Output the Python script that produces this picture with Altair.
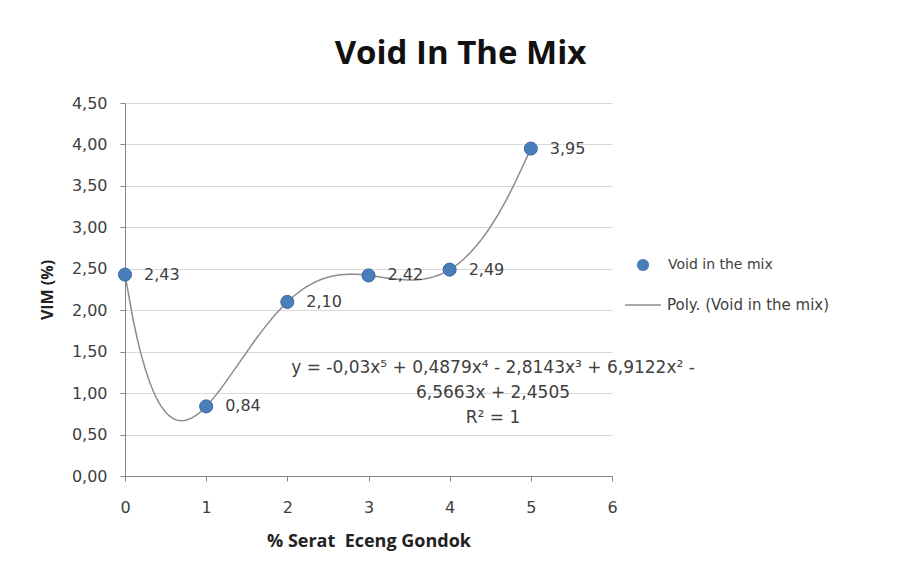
import altair as alt
import pandas as pd

# Data
fiber_pct = [0, 1, 2, 3, 4, 5]
vim_values = [2.43, 0.84, 2.10, 2.42, 2.49, 3.95]
value_labels = ["2,43", "0,84", "2,10", "2,42", "2,49", "3,95"]
x_ticks = [0, 1, 2, 3, 4, 5, 6]
y_ticks = [0, 0.5, 1.0, 1.5, 2.0, 2.5, 3.0, 3.5, 4.0, 4.5]

title_text = "Void In The Mix"
x_title = "% Serat\u00a0 Eceng Gondok"
y_title = "VIM (%)"
series_name = "Void in the mix"
trend_name = "Poly. (Void in the mix)"
equation_text = "y = -0,03x⁵ + 0,4879x⁴ - 2,8143x³ + 6,9122x² -\n6,5663x + 2,4505\nR² = 1"

df = pd.DataFrame({"x": fiber_pct, "y": vim_values, "label": value_labels})

FONT = "DejaVu Sans"
BOLD = "Open Sans"
W, H = 487, 373
BLUE = "#4A7EBB"
TXT = "#404040"

xs = alt.Scale(domain=[0, 6], nice=False, zero=False)
ys = alt.Scale(domain=[0, 4.5], nice=False)

x_axis = alt.Axis(values=x_ticks, format="d", title=x_title, grid=False, domainColor="#868686",
                  tickColor="#868686", tickSize=5, labelPadding=18, labelFontSize=16,
                  labelFlush=False, labelColor=TXT, labelFont=FONT, titleFont=BOLD,
                  titleFontSize=18, titleFontWeight="bold", titleColor="#222222", titlePadding=17)
y_axis = alt.Axis(values=y_ticks, title=y_title, gridColor="#D9D9D9", domainColor="#868686",
                  tickColor="#868686", tickSize=5, labelPadding=13, labelFontSize=16,
                  labelFlush=False, labelColor=TXT, labelFont=FONT, titleFont=BOLD,
                  titleFontSize=16, titleFontWeight="bold", titleColor="#222222", titlePadding=16,
                  labelExpr="replace(format(datum.value, '.2f'), '.', ',')")

base = alt.Chart(df)

trend = base.transform_regression(
    "x", "y", method="poly", order=5, extent=[0, 5]
).mark_line(color="#8C8C8C", strokeWidth=1.5).encode(
    x=alt.X("x:Q", scale=xs, axis=x_axis),
    y=alt.Y("y:Q", scale=ys, axis=y_axis),
)

points = base.mark_point(filled=True, size=170, color=BLUE, stroke="#3A64A0",
                         strokeWidth=1, opacity=1).encode(
    x=alt.X("x:Q", scale=xs),
    y=alt.Y("y:Q", scale=ys),
)

labels = base.mark_text(align="left", dx=19, font=FONT, fontSize=16, color=TXT).encode(
    x=alt.X("x:Q", scale=xs),
    y=alt.Y("y:Q", scale=ys),
    text="label:N",
)

eq = alt.Chart(pd.DataFrame({"t": [equation_text]})).mark_text(
    align="center", baseline="middle", lineBreak="\n", lineHeight=25,
    font=FONT, fontSize=17, color=TXT
).encode(x=alt.value(368), y=alt.value(265), text="t:N")

leg_df = pd.DataFrame({"a": [series_name]})
leg_point = alt.Chart(leg_df).mark_point(filled=True, size=150, color=BLUE, opacity=1).encode(
    x=alt.value(518), y=alt.value(162))
leg_t1 = alt.Chart(leg_df).mark_text(align="left", font=FONT, fontSize=14, color=TXT).encode(
    x=alt.value(543), y=alt.value(162), text=alt.value(series_name))
leg_line = alt.Chart(leg_df).mark_rule(color="#8C8C8C", strokeWidth=1.5).encode(
    x=alt.value(500), x2=alt.value(536), y=alt.value(202))
leg_t2 = alt.Chart(leg_df).mark_text(align="left", font=FONT, fontSize=15, color=TXT).encode(
    x=alt.value(542), y=alt.value(202), text=alt.value(trend_name))

chart = alt.layer(trend, points, labels, eq, leg_point, leg_t1, leg_line, leg_t2).properties(
    width=W, height=H,
    title=alt.TitleParams(title_text, font=BOLD, fontSize=33, fontWeight="bold",
                          color="#111111", anchor="middle", frame="group", dx=92, offset=24),
    autosize=alt.AutoSizeParams(type="none"),
    padding={"left": 117, "top": 95, "right": 276, "bottom": 90},
    background="white",
).configure_view(stroke=None)

chart.save("out.html", embed_options={"renderer": "svg", "actions": False})
